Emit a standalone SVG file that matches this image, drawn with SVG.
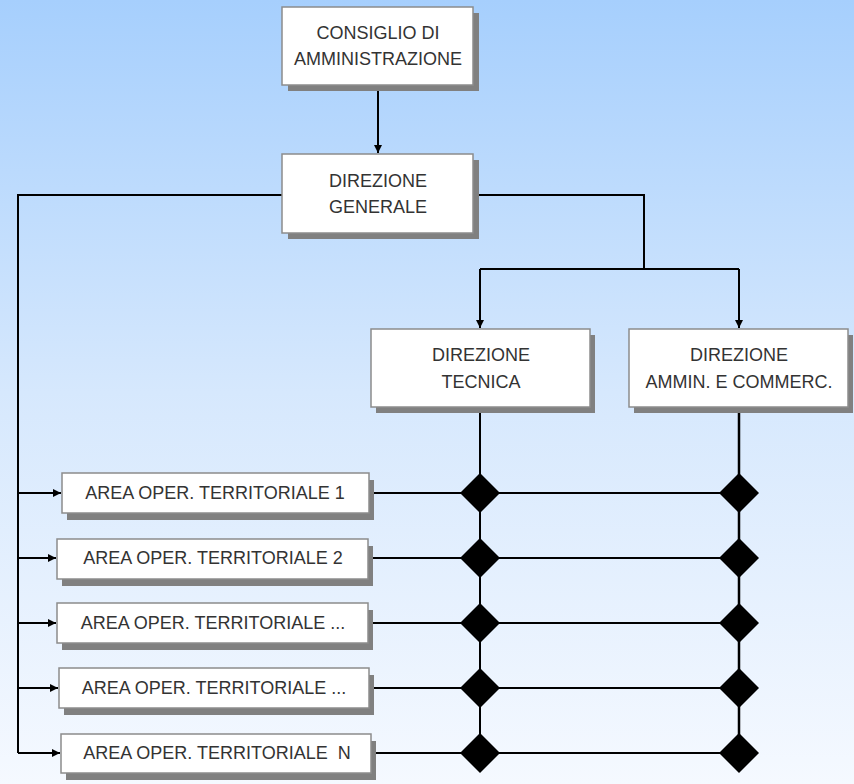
<svg xmlns="http://www.w3.org/2000/svg" width="854" height="784" viewBox="0 0 854 784">
<defs>
<linearGradient id="bg" x1="0" y1="0" x2="0" y2="1">
<stop offset="0" stop-color="#a6cffd"/>
<stop offset="0.5" stop-color="#d6e8fd"/>
<stop offset="1" stop-color="#f5f9ff"/>
</linearGradient>
<marker id="arr" viewBox="0 0 10 10" refX="10" refY="5" markerWidth="4" markerHeight="4" orient="auto" markerUnits="strokeWidth">
<path d="M0,0 L10,5 L0,10 z" fill="#000"/>
</marker>
<path id="dia" d="M0,-20 L20,0 L0,20 L-20,0 z"/>
</defs>
<style>
.sh{fill:#808080}
.bx{fill:#fff;stroke:#8c8c8c;stroke-width:1.5}
.t{font-family:"Liberation Sans",Arial,sans-serif;font-size:18px;fill:#333;text-anchor:middle}
.c{fill:none;stroke:#000;stroke-width:2}
.d{fill:#000}
</style>
<rect width="854" height="784" fill="url(#bg)"/>
<g id="connectors">
<path class="c" d="M378,85 V153" marker-end="url(#arr)"/>
<path class="c" d="M473,195 H644 V269"/>
<path class="c" d="M480,269 H739"/>
<path class="c" d="M480,269 V328" marker-end="url(#arr)"/>
<path class="c" d="M739,269 V328" marker-end="url(#arr)"/>
<path class="c" d="M282,195 H18 V753"/>
<path class="c" d="M18,493 H61" marker-end="url(#arr)"/>
<path class="c" d="M18,558 H56" marker-end="url(#arr)"/>
<path class="c" d="M18,623 H56" marker-end="url(#arr)"/>
<path class="c" d="M18,688 H58" marker-end="url(#arr)"/>
<path class="c" d="M18,753 H60" marker-end="url(#arr)"/>
<path class="c" d="M480,407 V753"/>
<path class="c" d="M739,407 V753" style="stroke-width:2.5"/>
<path class="c" d="M370,493 H739"/>
<path class="c" d="M368,558 H739"/>
<path class="c" d="M368,623 H739"/>
<path class="c" d="M369,688 H739"/>
<path class="c" d="M371,753 H739"/>
<use href="#dia" class="d" x="480" y="493"/>
<use href="#dia" class="d" x="739" y="493"/>
<use href="#dia" class="d" x="480" y="558"/>
<use href="#dia" class="d" x="739" y="558"/>
<use href="#dia" class="d" x="480" y="623"/>
<use href="#dia" class="d" x="739" y="623"/>
<use href="#dia" class="d" x="480" y="688"/>
<use href="#dia" class="d" x="739" y="688"/>
<use href="#dia" class="d" x="480" y="753"/>
<use href="#dia" class="d" x="739" y="753"/>
</g>
<g id="consiglio">
<rect class="sh" x="288" y="13" width="191" height="78"/>
<rect class="bx" x="282" y="7" width="191" height="78"/>
<text class="t" x="378" y="39">CONSIGLIO DI</text>
<text class="t" x="378" y="65">AMMINISTRAZIONE</text>
</g>
<g id="direzione-generale">
<rect class="sh" x="288" y="160" width="191" height="79"/>
<rect class="bx" x="282" y="154" width="191" height="79"/>
<text class="t" x="378" y="187">DIREZIONE</text>
<text class="t" x="378" y="213">GENERALE</text>
</g>
<g id="direzione-tecnica">
<rect class="sh" x="376" y="335" width="219" height="78"/>
<rect class="bx" x="371" y="329" width="219" height="78"/>
<text class="t" x="481" y="361">DIREZIONE</text>
<text class="t" x="481" y="388">TECNICA</text>
</g>
<g id="direzione-ammin">
<rect class="sh" x="634" y="335" width="219" height="78"/>
<rect class="bx" x="629" y="329" width="219" height="78"/>
<text class="t" x="739" y="361">DIREZIONE</text>
<text class="t" x="739" y="388">AMMIN. E COMMERC.</text>
</g>
<g id="area1">
<rect class="sh" x="67" y="480" width="307" height="40"/>
<rect class="bx" x="62" y="473" width="307" height="40"/>
<text class="t" x="215" y="499">AREA OPER. TERRITORIALE 1</text>
</g>
<g id="area2">
<rect class="sh" x="62" y="546" width="311" height="40"/>
<rect class="bx" x="57" y="539" width="311" height="40"/>
<text class="t" x="213" y="564">AREA OPER. TERRITORIALE 2</text>
</g>
<g id="area3">
<rect class="sh" x="62" y="610" width="311" height="40"/>
<rect class="bx" x="57" y="603" width="311" height="40"/>
<text class="t" x="213" y="629">AREA OPER. TERRITORIALE ...</text>
</g>
<g id="area4">
<rect class="sh" x="64" y="675" width="310" height="40"/>
<rect class="bx" x="59" y="668" width="310" height="40"/>
<text class="t" x="214" y="694">AREA OPER. TERRITORIALE ...</text>
</g>
<g id="areaN">
<rect class="sh" x="66" y="741" width="310" height="39"/>
<rect class="bx" x="61" y="734" width="310" height="39"/>
<text class="t" x="217" y="759" style="white-space:pre">AREA OPER. TERRITORIALE  N</text>
</g>
</svg>
